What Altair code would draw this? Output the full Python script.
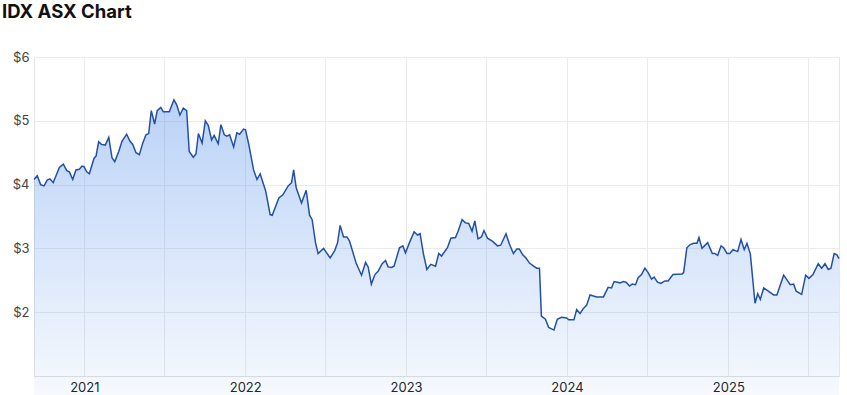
import altair as alt
import pandas as pd
import numpy as np

# Dates as fractional years
decimal_years = [
    2020.688, 2020.708, 2020.729, 2020.750, 2020.770, 2020.787, 2020.807, 2020.845, 2020.870, 2020.891,
    2020.907, 2020.928, 2020.948, 2020.969, 2020.986, 2020.998, 2021.015, 2021.031, 2021.060, 2021.073,
    2021.089, 2021.106, 2021.130, 2021.152, 2021.172, 2021.189, 2021.214, 2021.234, 2021.263, 2021.284,
    2021.301, 2021.321, 2021.342, 2021.363, 2021.383, 2021.400, 2021.416, 2021.437, 2021.453, 2021.475,
    2021.491, 2021.528, 2021.557, 2021.574, 2021.594, 2021.615, 2021.636, 2021.652, 2021.677, 2021.694,
    2021.709, 2021.732, 2021.752, 2021.770, 2021.791, 2021.807, 2021.832, 2021.849, 2021.870, 2021.886,
    2021.903, 2021.928, 2021.948, 2021.965, 2021.990, 2022.002, 2022.023, 2022.052, 2022.073, 2022.093,
    2022.127, 2022.155, 2022.168, 2022.209, 2022.234, 2022.267, 2022.288, 2022.301, 2022.317, 2022.350,
    2022.379, 2022.400, 2022.416, 2022.437, 2022.453, 2022.487, 2022.528, 2022.557, 2022.574, 2022.590,
    2022.611, 2022.632, 2022.648, 2022.689, 2022.723, 2022.748, 2022.764, 2022.784, 2022.806, 2022.826,
    2022.851, 2022.872, 2022.888, 2022.909, 2022.925, 2022.959, 2022.980, 2022.996, 2023.021, 2023.050,
    2023.071, 2023.087, 2023.108, 2023.129, 2023.153, 2023.183, 2023.203, 2023.220, 2023.257, 2023.278,
    2023.307, 2023.323, 2023.348, 2023.369, 2023.389, 2023.410, 2023.427, 2023.447, 2023.468, 2023.484,
    2023.506, 2023.538, 2023.568, 2023.588, 2023.621, 2023.642, 2023.667, 2023.688, 2023.704, 2023.725,
    2023.745, 2023.767, 2023.795, 2023.812, 2023.829, 2023.841, 2023.866, 2023.886, 2023.919, 2023.940,
    2023.965, 2023.998, 2024.011, 2024.043, 2024.060, 2024.081, 2024.102, 2024.122, 2024.143, 2024.184,
    2024.226, 2024.255, 2024.276, 2024.292, 2024.329, 2024.350, 2024.366, 2024.388, 2024.404, 2024.425,
    2024.441, 2024.462, 2024.483, 2024.503, 2024.524, 2024.540, 2024.561, 2024.582, 2024.607, 2024.627,
    2024.657, 2024.714, 2024.723, 2024.743, 2024.764, 2024.785, 2024.806, 2024.818, 2024.837, 2024.872,
    2024.901, 2024.917, 2024.934, 2024.955, 2024.971, 2024.992, 2025.009, 2025.029, 2025.058, 2025.079,
    2025.099, 2025.116, 2025.137, 2025.166, 2025.183, 2025.199, 2025.220, 2025.282, 2025.302, 2025.344,
    2025.385, 2025.406, 2025.422, 2025.456, 2025.481, 2025.501, 2025.526, 2025.559, 2025.580, 2025.601,
    2025.621, 2025.638, 2025.658, 2025.675, 2025.688,
]

prices = [
    4.08, 4.14, 4.00, 3.98, 4.07, 4.09, 4.03, 4.27, 4.32, 4.22,
    4.20, 4.08, 4.23, 4.24, 4.29, 4.28, 4.20, 4.17, 4.41, 4.45,
    4.67, 4.63, 4.62, 4.74, 4.42, 4.36, 4.52, 4.68, 4.79, 4.68,
    4.63, 4.50, 4.47, 4.65, 4.78, 4.80, 5.16, 4.95, 5.16, 5.21,
    5.14, 5.14, 5.33, 5.25, 5.09, 5.20, 5.16, 4.52, 4.43, 4.48,
    4.80, 4.65, 5.00, 4.93, 4.70, 4.77, 4.64, 4.94, 4.78, 4.76,
    4.78, 4.59, 4.81, 4.79, 4.87, 4.86, 4.62, 4.23, 4.08, 4.17,
    3.90, 3.53, 3.52, 3.79, 3.84, 3.98, 4.03, 4.23, 3.95, 3.71,
    3.91, 3.52, 3.45, 3.09, 2.92, 3.00, 2.85, 2.97, 3.09, 3.36,
    3.18, 3.18, 3.12, 2.77, 2.58, 2.78, 2.71, 2.44, 2.59, 2.64,
    2.76, 2.81, 2.71, 2.70, 2.72, 3.01, 3.04, 2.93, 3.09, 3.26,
    3.21, 3.23, 2.91, 2.67, 2.75, 2.72, 2.92, 2.88, 3.01, 3.16,
    3.17, 3.27, 3.45, 3.40, 3.39, 3.27, 3.43, 3.15, 3.18, 3.28,
    3.16, 3.11, 3.04, 3.05, 3.23, 3.07, 2.92, 2.99, 2.99, 2.90,
    2.85, 2.77, 2.72, 2.69, 2.69, 1.94, 1.89, 1.76, 1.72, 1.89,
    1.92, 1.91, 1.88, 1.88, 2.04, 1.98, 2.06, 2.11, 2.27, 2.24,
    2.24, 2.39, 2.38, 2.48, 2.46, 2.48, 2.47, 2.41, 2.44, 2.43,
    2.54, 2.59, 2.69, 2.62, 2.52, 2.55, 2.47, 2.45, 2.49, 2.49,
    2.59, 2.60, 2.62, 3.01, 3.06, 3.08, 3.08, 3.17, 3.00, 3.09,
    2.92, 2.92, 2.89, 3.04, 3.01, 2.92, 2.92, 2.98, 2.95, 3.14,
    2.98, 3.08, 2.91, 2.14, 2.29, 2.20, 2.38, 2.27, 2.27, 2.58,
    2.43, 2.44, 2.33, 2.28, 2.58, 2.53, 2.59, 2.76, 2.69, 2.76,
    2.67, 2.69, 2.92, 2.90, 2.84,
]

y_ticks = [2, 3, 4, 5, 6]
x_tick_years = [2021, 2022, 2023, 2024, 2025]


def to_ts(t):
    y = int(np.floor(t))
    start = pd.Timestamp(year=y, month=1, day=1)
    end = pd.Timestamp(year=y + 1, month=1, day=1)
    return start + (end - start) * (t - y)


def ms(ts):
    return int(ts.value // 1_000_000)


stamps = [to_ts(t) for t in decimal_years]
df = pd.DataFrame({"date": [s.strftime("%Y-%m-%dT%H:%M:%SZ") for s in stamps], "price": prices})

x_values = []
for yr in x_tick_years:
    x_values.append(ms(pd.Timestamp(year=yr, month=1, day=1)))
    x_values.append(ms(pd.Timestamp(year=yr, month=7, day=1)))

grid_color = "#ebebeb"

chart = (
    alt.Chart(df)
    .mark_area(
        interpolate="linear",
        line={"color": "#2350a5", "strokeWidth": 1.5},
        color=alt.Gradient(
            gradient="linear",
            stops=[
                alt.GradientStop(color="rgba(60,128,232,0.0)", offset=0),
                alt.GradientStop(color="rgba(60,128,232,0.5)", offset=1),
            ],
            x1=1, x2=1, y1=1, y2=0,
        ),
    )
    .encode(
        x=alt.X(
            "date:T",
            scale=alt.Scale(type="utc", domain=[ms(stamps[0]), ms(stamps[-1])]),
            axis=alt.Axis(
                values=x_values,
                labelExpr="utcmonth(datum.value) == 0 ? utcFormat(datum.value, '%Y') : ''",
                title=None,
                grid=True,
                gridColor=grid_color,
                ticks=False,
                domain=True,
                domainColor="#e0e0e0",
                labelFont="Inter",
                labelFontSize=13,
                labelColor="#222222",
                labelPadding=5,
            ),
        ),
        y=alt.Y(
            "price:Q",
            scale=alt.Scale(domain=[1, 6], nice=False, zero=False),
            axis=alt.Axis(
                values=y_ticks,
                labelExpr="'$' + datum.value",
                title=None,
                grid=True,
                gridColor=grid_color,
                ticks=False,
                domain=False,
                labelFont="Inter",
                labelFontSize=13,
                labelColor="#444444",
                labelPadding=5,
            ),
        ),
    )
    .properties(
        width=805,
        height=319,
        autosize=alt.AutoSizeParams(type="none"),
        padding={"left": 34, "top": 57, "right": 8, "bottom": 19},
        title=alt.TitleParams(
            "IDX ASX Chart",
            anchor="start",
            frame="group",
            font="Inter",
            fontSize=18.5,
            fontWeight="bold",
            color="#111111",
            dx=-32,
            offset=30,
        ),
    )
    .configure_view(stroke="#e6e6e6")
)

chart.save("out.html", embed_options={"renderer": "svg", "actions": False})
